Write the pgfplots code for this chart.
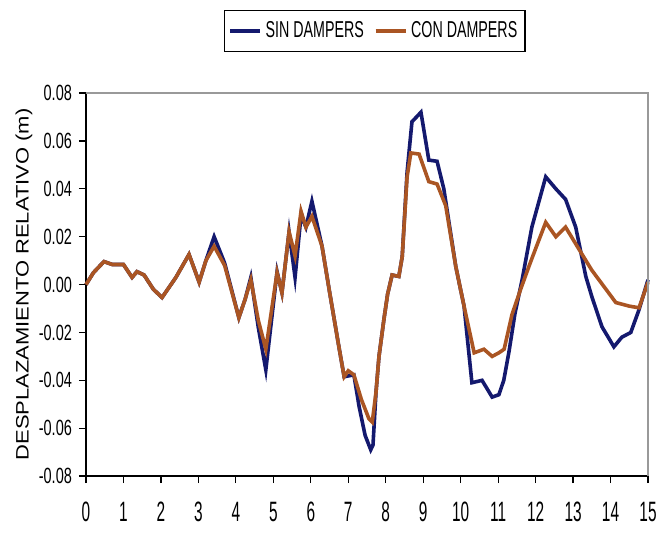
\documentclass[border=0pt]{standalone}
\usepackage{fontspec}
\setmainfont{Liberation Sans}
\newfontfamily\xtickfont[FakeStretch=0.55]{Liberation Sans}
\newfontfamily\ytickfont[FakeStretch=0.66]{Liberation Sans}
\newfontfamily\legfont[FakeStretch=0.62]{Liberation Sans}
\newfontfamily\labfont[FakeStretch=1.22]{Liberation Sans}
\usepackage{pgfplots}
\pgfplotsset{compat=1.18}
\definecolor{sinc}{RGB}{20,25,110}
\definecolor{conc}{RGB}{170,85,35}

\begin{document}
\begin{tikzpicture}
\begin{axis}[
  scale only axis,
  width=281pt, height=191.5pt,
  xmin=0, xmax=15, ymin=-0.08, ymax=0.08,
  clip=false,
  axis x line*=bottom, axis y line*=left,
  axis line style={black, line width=0.8pt, -},
  xtick={0,1,...,15},
  ytick={-0.08,-0.06,-0.04,-0.02,0,0.02,0.04,0.06,0.08},
  tick align=outside,
  major tick length=3.5pt,
  tick style={black, line width=0.6pt},
  /pgf/number format/assume math mode=true,
  xticklabel style={font=\xtickfont\fontsize{14}{15}\selectfont, anchor=center, yshift=-14.5pt},
  yticklabel style={font=\ytickfont\fontsize{11}{12}\selectfont, anchor=east,
    /pgf/number format/.cd, fixed, fixed zerofill, precision=2},
  scaled y ticks=false,
  ylabel={DESPLAZAMIENTO RELATIVO (m)},
  every axis y label/.style={at={(rel axis cs:0,0.5)}, xshift=-31pt, rotate=90, anchor=center,
    font=\labfont\fontsize{9}{10}\selectfont},
  legend columns=2,
  legend style={at={(0.514,1.162)}, anchor=center, draw=black, line width=0.8pt,
    font=\legfont\fontsize{11.5}{12}\selectfont, inner xsep=2pt, inner ysep=3.5pt,
    /tikz/every even column/.append style={column sep=3pt}},
  legend image code/.code={\draw[#1, line width=1.6pt] (0pt,0pt) -- (15pt,0pt);},
]
\addplot[sinc, line width=1.8pt] coordinates {
(0,0) (0.2,0.005) (0.48,0.0096) (0.7,0.0084) (1.0,0.0084) (1.23,0.003) (1.36,0.0054)
(1.55,0.004) (1.8,-0.002) (2.03,-0.0054) (2.4,0.003) (2.75,0.0126) (3.02,0.001)
(3.2,0.010) (3.42,0.020) (3.7,0.009) (4.08,-0.0138) (4.25,-0.006) (4.4,0.003)
(4.6,-0.018) (4.8,-0.0356) (5.1,0.0054) (5.23,-0.0034) (5.42,0.022) (5.58,0.003)
(5.74,0.029) (5.87,0.024) (6.03,0.0348) (6.3,0.016) (6.5,-0.003) (6.75,-0.026)
(6.89,-0.0385) (7.15,-0.0377) (7.29,-0.051) (7.45,-0.063) (7.6,-0.069) (7.66,-0.067)
(7.74,-0.045) (7.82,-0.030) (7.95,-0.0147) (8.05,-0.004) (8.17,0.004) (8.35,0.0034)
(8.44,0.0117) (8.57,0.047) (8.7,0.068) (8.94,0.072) (9.15,0.052) (9.37,0.0515)
(9.55,0.040) (9.87,0.0075) (10.09,-0.009) (10.3,-0.041) (10.57,-0.040) (10.84,-0.047)
(11.02,-0.046) (11.15,-0.040) (11.29,-0.028) (11.45,-0.012) (11.64,0.002) (11.9,0.024)
(12.27,0.045) (12.54,0.040) (12.8,0.0356) (13.07,0.024) (13.34,0.0034) (13.5,-0.005)
(13.77,-0.0176) (14.09,-0.026) (14.3,-0.022) (14.54,-0.020) (14.76,-0.0105) (15,0.002)
};
\addlegendentry{SIN DAMPERS}
\addplot[conc, line width=1.8pt] coordinates {
(0,0) (0.2,0.005) (0.48,0.0096) (0.7,0.0084) (1.0,0.0084) (1.23,0.003) (1.36,0.0054)
(1.55,0.004) (1.8,-0.002) (2.03,-0.0054) (2.4,0.003) (2.75,0.0126) (3.02,0.001)
(3.2,0.010) (3.42,0.016) (3.7,0.008) (4.08,-0.0138) (4.25,-0.006) (4.4,0.002)
(4.6,-0.015) (4.8,-0.027) (5.1,0.005) (5.23,-0.0034) (5.42,0.022) (5.58,0.012)
(5.74,0.0306) (5.87,0.024) (6.03,0.0285) (6.3,0.016) (6.5,-0.003) (6.75,-0.026)
(6.89,-0.0385) (7.0,-0.036) (7.15,-0.0377) (7.35,-0.048) (7.55,-0.056) (7.64,-0.0574)
(7.74,-0.045) (7.82,-0.030) (7.95,-0.0147) (8.05,-0.004) (8.17,0.004) (8.35,0.0034)
(8.44,0.0117) (8.57,0.045) (8.67,0.055) (8.89,0.0545) (9.15,0.043) (9.37,0.042)
(9.6,0.033) (9.87,0.0075) (10.09,-0.009) (10.36,-0.0285) (10.62,-0.027) (10.84,-0.030)
(11.02,-0.0285) (11.16,-0.027) (11.37,-0.0125) (11.6,-0.002) (11.82,0.0075) (12.0,0.015)
(12.27,0.026) (12.54,0.020) (12.8,0.024) (13.16,0.0147) (13.5,0.006) (13.88,-0.002)
(14.14,-0.0075) (14.5,-0.009) (14.76,-0.0097) (15,0.001)
};
\addlegendentry{CON DAMPERS}
\draw[gray!80, line width=0.8pt] (rel axis cs:0,1) -- (rel axis cs:1,1) -- (rel axis cs:1,0);
\path (rel axis cs:-0.153,-0.157) rectangle (rel axis cs:1.032,1.243);
\end{axis}
\end{tikzpicture}
\end{document}
